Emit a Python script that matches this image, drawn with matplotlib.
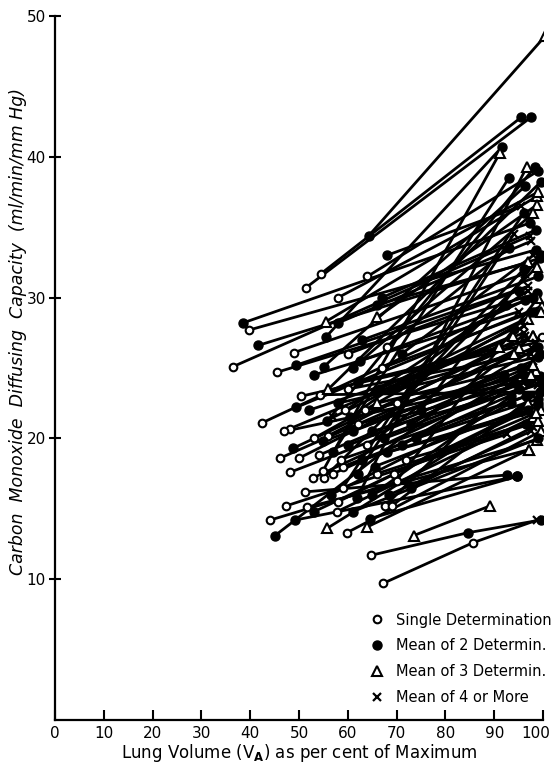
import matplotlib
matplotlib.use("Agg")
import matplotlib.pyplot as plt
import matplotlib.transforms as mtransforms
from matplotlib.lines import Line2D

# each subject: lung volumes (% of max), DLco values, and kind of point
# kind: 1 = single determination, 2 = mean of 2, 3 = mean of 3, 4 = mean of 4 or more
volume = [
    [64.3, 100.5], [54.5, 95.5], [51.4, 97.5], [38.5, 97.3], [39.8, 98.6],
    [41.6, 99.4], [36.5, 97.3], [55.5, 98.8], [66.0, 98.8], [49.0, 96.3],
    [55.5, 91.6], [49.4, 96.9], [45.5, 98.8], [55.1, 96.3], [54.3, 99.4],
    [49.4, 99.8], [42.4, 96.3], [48.2, 93.9], [55.7, 98.4], [56.0, 96.3],
    [48.8, 98.0], [46.1, 97.7], [50.0, 95.0], [48.2, 99.4], [52.9, 94.3],
    [55.1, 98.8], [54.9, 91.2], [51.2, 92.6], [47.3, 92.6], [51.6, 97.1],
    [53.1, 99.0], [44.1, 98.8], [49.2, 94.7], [45.1, 98.0], [55.7, 97.0],
    [57.8, 98.0], [59.8, 99.5], [61.9, 96.7], [64.5, 94.7], [73.5, 89.1],
    [67.6, 99.4], [69.0, 98.0], [64.8, 84.6, 99.5], [67.2, 85.7, 98.8], [63.9, 97.1],
    [58.0, 99.0], [60.0, 97.5], [62.0, 99.8], [60.0, 96.0], [62.0, 98.5],
    [63.0, 97.0], [65.0, 99.0], [66.0, 95.5], [67.0, 98.0], [68.0, 99.5],
    [70.0, 97.0], [69.0, 94.0], [71.0, 98.0], [72.0, 96.5], [74.0, 99.0],
    [58.0, 97.5], [60.0, 95.0], [63.0, 99.0], [66.0, 97.0], [68.0, 93.0],
    [57.0, 93.0], [59.0, 96.0], [62.0, 94.0], [56.0, 99.5], [61.0, 98.0],
    [70.0, 99.0], [75.0, 99.5], [72.0, 96.0], [73.0, 98.0], [66.0, 99.0],
    [65.0, 93.5], [58.0, 95.0], [61.0, 99.0], [55.0, 92.0], [53.0, 97.0],
    [57.0, 94.0], [52.0, 91.0], [53.0, 95.0], [58.0, 99.0], [68.0, 95.5],
    [67.0, 98.5], [64.0, 99.0], [47.0, 97.5], [50.5, 98.5], [59.0, 99.5],
    [58.5, 96.5], [61.0, 98.0], [63.5, 97.5], [65.5, 99.0], [67.5, 95.0],
    [69.5, 98.5], [71.0, 97.0], [57.0, 99.5], [60.5, 92.5], [64.0, 96.0],
    [66.5, 99.5], [62.5, 98.0], [70.0, 96.0], [56.5, 93.5], [59.5, 97.0],
    [73.0, 99.0], [54.0, 98.0], [68.5, 97.5],
]
dlco = [
    [34.4, 48.6], [31.7, 42.8], [30.7, 42.8], [28.2, 35.3], [27.7, 33.4],
    [26.6, 32.8], [25.1, 34.4], [28.3, 37.2], [28.6, 36.6], [26.1, 31.7],
    [27.2, 40.7], [25.2, 30.8], [24.7, 30.3], [25.1, 37.9], [23.1, 23.3],
    [22.2, 29.4], [21.1, 29.8], [20.7, 27.3], [21.2, 39.3], [20.2, 27.3],
    [19.3, 27.3], [18.6, 26.4], [18.6, 26.4], [17.6, 24.4], [17.2, 23.9],
    [17.2, 32.2], [17.7, 40.3], [16.2, 17.4], [15.2, 20.3], [15.1, 19.2],
    [14.8, 22.3], [14.2, 19.9], [14.2, 17.3], [13.1, 27.3], [13.6, 22.5],
    [14.8, 21.5], [13.3, 20.5], [15.8, 39.3], [14.3, 17.3], [13.1, 15.2],
    [15.2, 26.0], [15.2, 23.0], [11.7, 13.3, 14.2], [9.7, 12.6, 14.2], [13.7, 19.2],
    [22.5, 25.8], [23.5, 26.0], [24.0, 27.2], [19.5, 24.5], [21.0, 24.8],
    [18.5, 22.0], [20.5, 23.8], [22.5, 25.0], [25.0, 29.0], [19.0, 22.0],
    [21.5, 24.0], [23.5, 26.0], [26.0, 33.0], [18.5, 21.0], [20.0, 22.8],
    [28.2, 34.0], [26.0, 30.5], [27.0, 31.5], [29.5, 32.5], [26.5, 33.5],
    [19.0, 38.5], [16.5, 36.0], [17.5, 34.5], [23.5, 38.2], [25.0, 36.0],
    [17.0, 30.0], [22.0, 33.0], [24.0, 27.5], [16.5, 20.8], [17.5, 21.2],
    [16.0, 23.0], [15.5, 21.8], [14.8, 20.0], [19.8, 24.5], [20.0, 28.5],
    [21.5, 27.8], [22.0, 26.5], [24.5, 29.0], [30.0, 37.5], [33.0, 36.5],
    [30.0, 34.8], [31.5, 39.0], [20.5, 24.2], [23.0, 26.8], [18.0, 23.4],
    [18.5, 23.0], [20.5, 25.5], [22.0, 24.5], [18.0, 22.5], [20.0, 23.5],
    [17.5, 21.8], [19.5, 25.0], [17.5, 24.0], [21.5, 29.5], [19.5, 28.0],
    [23.5, 29.0], [25.5, 30.0], [22.5, 32.0], [16.0, 22.5], [22.0, 30.5],
    [21.0, 26.5], [18.8, 25.2], [16.0, 20.5],
]
kind = [
    [2, 3], [1, 2], [1, 2], [2, 2], [1, 2],
    [2, 2], [1, 4], [3, 3], [3, 3], [1, 4],
    [2, 2], [2, 4], [1, 2], [2, 2], [1, 2],
    [2, 3], [1, 2], [1, 3], [2, 2], [1, 4],
    [2, 3], [1, 4], [1, 3], [1, 2], [1, 2],
    [1, 3], [1, 3], [1, 2], [1, 4], [1, 3],
    [2, 2], [1, 3], [2, 2], [2, 3], [3, 3],
    [1, 3], [1, 3], [2, 3], [2, 2], [3, 3],
    [1, 2], [1, 4], [1, 2, 2], [1, 1, 4], [3, 3],
    [2, 2], [1, 4], [2, 1], [2, 2], [1, 3],
    [2, 2], [2, 4], [3, 2], [1, 2], [2, 3],
    [4, 2], [2, 3], [2, 4], [1, 2], [2, 2],
    [2, 4], [1, 2], [2, 2], [2, 3], [1, 2],
    [2, 2], [1, 2], [2, 4], [3, 2], [2, 3],
    [1, 3], [2, 2], [2, 4], [2, 4], [1, 3],
    [2, 2], [1, 4], [2, 2], [2, 2], [1, 3],
    [4, 2], [2, 3], [2, 4], [1, 3], [2, 4],
    [2, 2], [1, 2], [1, 2], [1, 4], [1, 2],
    [1, 2], [2, 4], [1, 3], [2, 2], [2, 2],
    [1, 3], [2, 4], [1, 2], [2, 2], [1, 4],
    [2, 3], [2, 2], [1, 2], [2, 2], [1, 4],
    [2, 2], [1, 3], [2, 4],
]

labels = ["Single Determination", "Mean of 2 Determin.",
          "Mean of 3 Determin.", "Mean of 4 or More"]

# marker style per kind
style = {
    1: dict(marker="o", ms=5.5, mfc="white", mec="black", mew=1.5),
    2: dict(marker="o", ms=6.5, mfc="black", mec="black", mew=1.0),
    3: dict(marker="^", ms=6.5, mfc="white", mec="black", mew=1.5),
    4: dict(marker="x", ms=5.5, mfc="none", mec="black", mew=1.6),
}

fig = plt.figure(figsize=(5.53, 7.63), dpi=100)
ax = fig.add_axes([0.0995, 0.0564, 0.8825, 0.9226])

for xs, ys, ks in zip(volume, dlco, kind):
    ax.plot(xs, ys, color="black", lw=2.0, zorder=2, solid_capstyle="round")
    for x, y, k in zip(xs, ys, ks):
        ax.plot([x], [y], ls="none", zorder=3, **style[k])

ax.set_xlim(0, 100)
ax.set_ylim(0, 50)
ax.spines["top"].set_visible(False)
ax.spines["right"].set_visible(False)
ax.spines["left"].set_linewidth(1.6)
ax.spines["bottom"].set_linewidth(1.6)

ax.set_xticks(range(0, 101, 10))
ax.set_yticks([10, 20, 30, 40, 50])
ax.tick_params(axis="x", direction="in", length=7, width=1.5, labelsize=11, pad=4)
ax.tick_params(axis="y", direction="inout", length=9, width=1.5, labelsize=11, pad=2)

# keep the "100" label inside the figure
shift = mtransforms.ScaledTranslation(-5 / 72, 0, fig.dpi_scale_trans)
last = ax.get_xticklabels()[-1]
last.set_transform(last.get_transform() + shift)

ax.set_xlabel(r"Lung Volume (V$_\mathbf{A}$) as per cent of Maximum", fontsize=12, labelpad=1)
fig.text(0.032, 0.565, "Carbon  Monoxide  Diffusing  Capacity  (ml/min/mm Hg)",
         rotation=90, ha="center", va="center", fontsize=12.5, style="italic")

handles = [Line2D([], [], ls="none", **style[k]) for k in (1, 2, 3, 4)]
ax.legend(handles, labels, loc="upper left", bbox_to_anchor=(0.63, 0.163),
          frameon=False, fontsize=10.5, handlelength=1.0, handletextpad=0.8,
          labelspacing=0.75, borderpad=0)

fig.savefig("out.png", dpi=100)
